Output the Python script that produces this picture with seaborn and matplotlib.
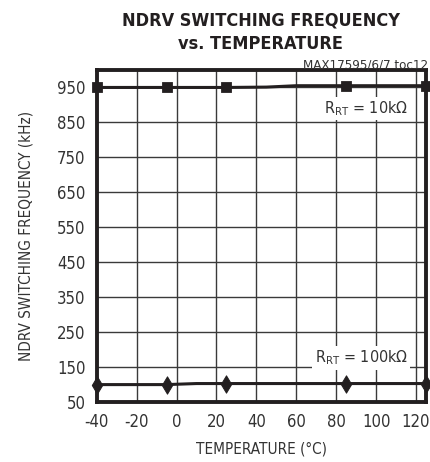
import matplotlib
matplotlib.use("Agg")
import matplotlib.pyplot as plt
import seaborn as sns
import pandas as pd
from matplotlib import font_manager

sns.set_style("white")

# look for a narrow / condensed sans face
cands = [f for f in font_manager.fontManager.ttflist
         if ("Narrow" in f.name or "Condensed" in f.name
             or str(f.stretch) in ("condensed", "semi-condensed", "extra-condensed"))]
reg = [f for f in cands if f.weight in (400, "normal", "regular") and f.style == "normal"]
bold = [f for f in cands if f.weight in (700, "bold") and f.style == "normal"]
if reg:
    fam = reg[0].name
    plt.rcParams['font.family'] = [fam, 'DejaVu Sans']
    plt.rcParams['font.stretch'] = reg[0].stretch
else:
    fam = "Liberation Sans"
    plt.rcParams['font.family'] = [fam, 'DejaVu Sans']

# data
temp_line_10k = [-40, -5, 25, 45, 60, 85, 125]
freq_line_10k = [950, 950, 950, 951, 955, 955, 955]
temp_mark = [-40, -5, 25, 85, 125]
freq_mark_10k = [950, 950, 950, 955, 955]
temp_line_100k = [-40, -5, 10, 25, 85, 125]
freq_line_100k = [99, 99, 102, 102, 102, 102]
freq_mark_100k = [99, 99, 102, 102, 102]
xticks = [-40, -20, 0, 20, 40, 60, 80, 100, 120]
yticks = [50, 150, 250, 350, 450, 550, 650, 750, 850, 950]

ink = "#231f20"
fig = plt.figure(figsize=(4.31, 4.62), dpi=100)
ax = fig.add_axes([0.2244, 0.1305, 0.764, 0.718])

df10 = pd.DataFrame({"t": temp_line_10k, "f": freq_line_10k})
df100 = pd.DataFrame({"t": temp_line_100k, "f": freq_line_100k})
sns.lineplot(data=df10, x="t", y="f", ax=ax, color=ink, lw=2.2, zorder=3)
sns.lineplot(data=df100, x="t", y="f", ax=ax, color=ink, lw=2.2, zorder=3)
sns.scatterplot(x=temp_mark, y=freq_mark_10k, ax=ax, marker="s", s=52,
                color=ink, edgecolor=ink, zorder=4, clip_on=False)
sns.scatterplot(x=temp_mark, y=freq_mark_100k, ax=ax, marker="d", s=78,
                color=ink, edgecolor=ink, zorder=4, clip_on=False)

ax.set_xlim(-40, 125)
ax.set_ylim(50, 1000)
ax.set_xticks(xticks)
ax.set_yticks(yticks)
ax.set_xticklabels([str(v) for v in xticks], fontsize=12, color="#333333")
ax.set_yticklabels([str(v) for v in yticks], fontsize=12, color="#333333")
ax.tick_params(length=0, pad=8)
for x in xticks[1:]:
    ax.axvline(x, color="#3a3a3a", lw=1.0, zorder=1)
for y in yticks[1:]:
    ax.axhline(y, color="#3a3a3a", lw=1.0, zorder=1)
for s in ax.spines.values():
    s.set_linewidth(2.8)
    s.set_color(ink)
    s.set_visible(True)

ax.set_xlabel("TEMPERATURE (°C)", fontsize=11, color="#333333", labelpad=8)
ax.set_ylabel("NDRV SWITCHING FREQUENCY (kHz)", fontsize=11, color="#333333", labelpad=17)

bbox = dict(boxstyle="square,pad=0.15", fc="white", ec="none")
ax.text(95, 889, r"R$_{\rm RT}$ = 10k$\Omega$", fontsize=11.5, ha="center", va="center",
        color="#333333", bbox=bbox, zorder=5)
ax.text(92.5, 175, r"R$_{\rm RT}$ = 100k$\Omega$", fontsize=11.5, ha="center", va="center",
        color="#333333", bbox=bbox, zorder=5)

tfam = [bold[0].name, 'DejaVu Sans'] if bold else plt.rcParams['font.family']
fig.text(0.605, 0.976, "NDRV SWITCHING FREQUENCY\nvs. TEMPERATURE", ha="center", va="top",
         fontsize=13, fontweight="bold", color=ink, linespacing=1.45, family=tfam)
fig.text(0.993, 0.851, "MAX17595/6/7 toc12", ha="right", va="baseline", fontsize=9.5,
         color="#333333")

fig.savefig("out.png", dpi=100)
